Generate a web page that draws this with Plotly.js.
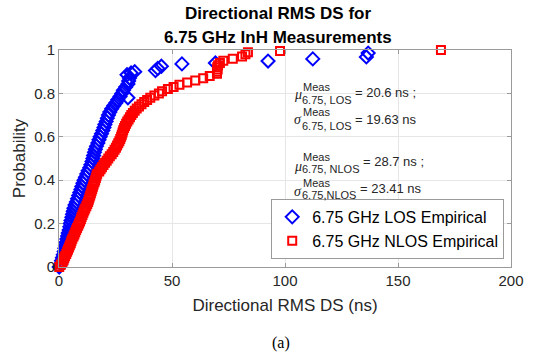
<!DOCTYPE html>
<html>
<head>
<meta charset="utf-8">
<script src="https://cdn.plot.ly/plotly-3.0.1.min.js"></script>
<style>html,body{margin:0;padding:0;background:#fff;}#chart{width:533px;height:355px;}</style>
</head>
<body>
<div id="chart"></div>
<script>
// LOS empirical CDF points (ns, probability)
const losDS = [0.1,0.8,1.1,1.5,1.9,2.3,2.6,2.9,3.2,3.5,3.8,4.1,4.5,4.8,5.0,5.3,5.7,6.0,6.3,6.6,7.1,7.7,8.2,8.7,9.2,9.7,10.1,10.6,11.1,11.7,12.3,12.9,13.6,14.1,14.6,15.0,15.3,15.7,16.1,16.6,17.2,17.7,18.2,18.8,19.4,19.9,20.3,20.9,21.4,21.9,22.5,23.3,24.2,25.2,26.0,27.0,30.5,27.8,28.5,29.5,30.5,30.8,31.2,30.1,31.9,33.5,42.7,43.7,45.3,54.4,69.2,92.5,112.3,136.0,136.8];
const losProb = [0.000,0.014,0.029,0.043,0.057,0.071,0.086,0.100,0.114,0.129,0.143,0.157,0.171,0.186,0.200,0.214,0.229,0.243,0.257,0.271,0.286,0.300,0.314,0.329,0.343,0.357,0.371,0.386,0.400,0.414,0.429,0.443,0.457,0.471,0.486,0.500,0.514,0.529,0.543,0.557,0.571,0.586,0.600,0.614,0.629,0.643,0.657,0.671,0.686,0.700,0.714,0.729,0.743,0.757,0.771,0.786,0.780,0.800,0.814,0.829,0.843,0.857,0.871,0.886,0.894,0.900,0.905,0.915,0.925,0.936,0.940,0.949,0.959,0.968,0.986];

// NLOS empirical CDF points (ns, probability)
const nlosDS = [0.1,0.8,1.5,1.9,2.3,2.7,3.2,3.6,4.0,4.4,4.8,5.2,5.5,5.9,6.4,6.8,7.2,7.6,8.0,8.5,8.9,9.3,9.7,10.0,10.4,10.8,11.2,11.6,12.1,12.5,12.9,13.2,13.5,13.8,14.1,14.4,14.7,15.0,15.3,15.7,16.0,16.3,16.6,16.9,17.8,18.4,19.0,19.7,20.4,21.1,21.8,22.5,23.3,24.0,24.6,25.2,25.7,26.2,26.7,27.1,27.5,27.8,28.1,28.4,28.8,29.2,29.7,30.2,30.8,31.4,32.0,32.7,33.5,34.4,35.4,36.5,37.7,39.0,40.4,42.2,44.2,45.6,48.2,50.7,53.3,56.7,60.3,63.8,66.7,69.9,69.9,70.2,70.0,70.4,71.2,72.7,76.9,81.0,82.5,83.6,97.8,169.0];
const nlosProb = [0.00,0.01,0.02,0.03,0.04,0.05,0.06,0.07,0.08,0.09,0.10,0.11,0.12,0.13,0.14,0.15,0.16,0.17,0.18,0.19,0.20,0.21,0.22,0.23,0.24,0.25,0.26,0.27,0.28,0.29,0.30,0.31,0.32,0.33,0.34,0.35,0.36,0.37,0.38,0.39,0.40,0.41,0.42,0.43,0.44,0.45,0.46,0.47,0.48,0.49,0.50,0.51,0.52,0.53,0.54,0.55,0.56,0.57,0.58,0.59,0.60,0.61,0.62,0.63,0.64,0.65,0.66,0.67,0.68,0.69,0.70,0.71,0.72,0.73,0.74,0.75,0.76,0.77,0.78,0.79,0.80,0.81,0.82,0.83,0.84,0.85,0.86,0.87,0.88,0.89,0.90,0.91,0.92,0.93,0.94,0.95,0.96,0.97,0.98,0.99,0.995,1.00];

const seriesNames = ['6.75 GHz LOS Empirical', '6.75 GHz NLOS Empirical'];
const xTicks = [0, 50, 100, 150, 200];
const yTicks = [0, 0.2, 0.4, 0.6, 0.8, 1];

const FONT = 'Liberation Sans, Arial, Helvetica, sans-serif';
const AX = '#262626';

const traces = [
  {x: losDS, y: losProb, type: 'scatter', mode: 'markers', name: seriesNames[0], cliponaxis: false,
   marker: {symbol: 'diamond-open', size: 10, color: '#0000ff', line: {color: '#0000ff', width: 2}}},
  {x: nlosDS, y: nlosProb, type: 'scatter', mode: 'markers', name: seriesNames[1], cliponaxis: false,
   marker: {symbol: 'square-open', size: 8, color: '#ff0000', line: {color: '#ff0000', width: 2}}}
];

function ann(text, x, y, size, opts) {
  return Object.assign({text: text, x: x, y: y, xref: 'paper', yref: 'paper', xanchor: 'left', yanchor: 'middle',
    showarrow: false, font: {family: FONT, size: size, color: AX}}, opts || {});
}
const greek = {family: 'Liberation Serif, serif', size: 14, color: AX};

const annotations = [
  {text: '<b>Directional RMS DS for</b>', x: 0.485, y: 1.166, xref: 'paper', yref: 'paper', xanchor: 'center', yanchor: 'middle', showarrow: false, font: {family: FONT, size: 17, color: '#000'}},
  {text: '<b>6.75 GHz InH Measurements</b>', x: 0.485, y: 1.058, xref: 'paper', yref: 'paper', xanchor: 'center', yanchor: 'middle', showarrow: false, font: {family: FONT, size: 17, color: '#000'}},
  // row 1
  ann('<i>μ</i>', 0.516, 0.793, 14, {font: greek}),
  ann('Meas', 0.536, 0.829, 11),
  ann('6.75, LOS', 0.534, 0.770, 11),
  ann('= 20.6 ns ;', 0.651, 0.806, 13),
  // row 2
  ann('<i>σ</i>', 0.516, 0.682, 14, {font: greek}),
  ann('Meas', 0.536, 0.712, 11),
  ann('6.75, LOS', 0.534, 0.650, 11),
  ann('= 19.63 ns', 0.651, 0.682, 13),
  // row 3
  ann('<i>μ</i>', 0.516, 0.462, 14, {font: greek}),
  ann('Meas', 0.536, 0.509, 11),
  ann('6.75, NLOS', 0.534, 0.452, 11),
  ann('= 28.7 ns ;', 0.669, 0.484, 13),
  // row 4
  ann('<i>σ</i>', 0.516, 0.350, 14, {font: greek}),
  ann('Meas', 0.536, 0.389, 11),
  ann('6.75,NLOS', 0.534, 0.330, 11),
  ann('= 23.41 ns', 0.662, 0.364, 13),
  {text: '(a)', x: 0.491, y: -0.350, xref: 'paper', yref: 'paper', xanchor: 'center', yanchor: 'middle', showarrow: false, font: {family: 'Liberation Serif, Times New Roman, serif', size: 16, color: '#000'}}
];

const axisCommon = {
  showline: true, linecolor: '#9a9a9a', linewidth: 1, mirror: 'ticks',
  ticks: 'inside', ticklen: 4, tickcolor: '#9a9a9a',
  showgrid: true, gridcolor: '#e6e6e6', zeroline: false,
  tickfont: {family: FONT, size: 15, color: AX}
};

const layout = {
  width: 533, height: 355,
  margin: {l: 59, r: 22, t: 50, b: 88, pad: 0},
  paper_bgcolor: '#fff', plot_bgcolor: '#fff',
  showlegend: true,
  legend: {x: 0.985, y: 0.037, xanchor: 'right', yanchor: 'bottom', bgcolor: '#fff',
    bordercolor: '#9a9a9a', borderwidth: 1, font: {family: FONT, size: 16, color: '#000'}, tracegroupgap: 0, itemwidth: 30},
  xaxis: Object.assign({}, axisCommon, {range: [0, 200], tickvals: xTicks, ticktext: xTicks.map(String),
    title: {text: 'Directional RMS DS (ns)', font: {family: FONT, size: 17, color: AX}, standoff: 11}}),
  yaxis: Object.assign({}, axisCommon, {range: [0, 1], tickvals: yTicks, ticktext: yTicks.map(String),
    title: {text: 'Probability', font: {family: FONT, size: 17, color: AX}, standoff: 4}}),
  annotations: annotations
};

Plotly.newPlot('chart', traces, layout, {displayModeBar: false, staticPlot: true});
</script>
</body>
</html>
